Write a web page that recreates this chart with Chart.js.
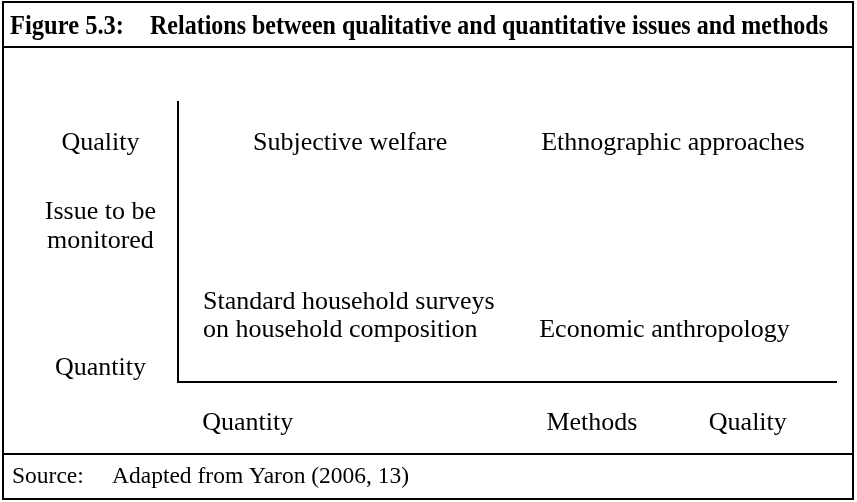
<!DOCTYPE html>
<html>
<head>
<meta charset="utf-8">
<script src="https://cdn.jsdelivr.net/npm/chart.js@4/dist/chart.umd.min.js"></script>
<style>
  html, body { margin: 0; padding: 0; background: #fff; }
  #wrap { width: 857px; height: 502px; position: relative; }
</style>
</head>
<body>
<div id="wrap"><canvas id="c" width="857" height="502"></canvas></div>
<script>
// ---- Texts ----
const titleLabel = "Figure 5.3:";
const titleText = "Relations between qualitative and quantitative issues and methods";
const sourceLabel = "Source:";
const sourceText = "Adapted from Yaron (2006, 13)";

// ---- Vertical axis: issue to be monitored (0 = quantity, 100 = quality) ----
const issueLabels = ["Quality", ["Issue to be", "monitored"], "Quantity"];
const issueValues = [85.4, 55.5, 5.0];

// ---- Horizontal axis: methods (0 = quantity, 100 = quality) ----
const methodLabels = ["Quantity", "Methods", "Quality"];
const methodValues = [10.6, 62.9, 86.6];

// ---- Cells of the diagram ----
const cellTexts = [
  "Subjective welfare",
  "Ethnographic approaches",
  ["Standard household surveys", "on household composition"],
  "Economic anthropology"
];
const cellX = [11.4, 55.2, 3.8, 54.9];
const cellY = [85.4, 85.4, 23.6, 18.6];

// ---- Styling ----
const SERIF = '"Liberation Serif", "Times New Roman", serif';

function fitText(ctx, text, x0, x1, y) {
  const w = ctx.measureText(text).width;
  const sx = (x1 - x0) / w;
  ctx.save();
  ctx.translate(x0, y);
  ctx.scale(sx, 1);
  ctx.fillText(text, 0, 0);
  ctx.restore();
}

const diagramPlugin = {
  id: 'diagramPlugin',
  beforeDraw(chart) {
    const ctx = chart.ctx;
    ctx.save();
    ctx.fillStyle = '#fff';
    ctx.fillRect(0, 0, chart.width, chart.height);
    ctx.restore();
  },
  afterDraw(chart) {
    const ctx = chart.ctx;
    ctx.save();
    // frame and separators
    ctx.strokeStyle = '#000';
    ctx.lineWidth = 2;
    ctx.strokeRect(3, 2, 850, 497);
    ctx.beginPath();
    ctx.moveTo(3, 47); ctx.lineTo(853, 47);
    ctx.moveTo(3, 454); ctx.lineTo(853, 454);
    ctx.stroke();

    ctx.fillStyle = '#000';
    ctx.textBaseline = 'middle';
    ctx.textAlign = 'left';
    // title (condensed bold serif)
    ctx.font = 'bold 27px ' + SERIF;
    fitText(ctx, titleLabel, 10, 124, 27);
    fitText(ctx, titleText, 150, 828, 27);
    // source
    ctx.font = '23.5px ' + SERIF;
    ctx.fillText(sourceLabel, 12, 477);
    ctx.fillText(sourceText, 112, 477);

    // cell texts positioned via the dataset elements (library scales)
    const meta = chart.getDatasetMeta(0);
    ctx.font = '26px ' + SERIF;
    const lh = 28;
    meta.data.forEach((pt, i) => {
      const lines = [].concat(cellTexts[i]);
      lines.forEach((ln, j) => {
        ctx.fillText(ln, pt.x, pt.y + (j - (lines.length - 1) / 2) * lh);
      });
    });
    ctx.restore();
  }
};

new Chart(document.getElementById('c'), {
  type: 'scatter',
  data: {
    datasets: [{
      data: cellX.map((x, i) => ({ x: x, y: cellY[i] })),
      pointRadius: 0,
      pointHoverRadius: 0,
      showLine: false
    }]
  },
  options: {
    responsive: false,
    devicePixelRatio: 1,
    animation: false,
    events: [],
    layout: { padding: { top: 102, right: 21, bottom: 0, left: 0 } },
    plugins: { legend: { display: false }, tooltip: { enabled: false }, title: { display: false } },
    scales: {
      x: {
        type: 'linear',
        position: 'bottom',
        min: 0, max: 100,
        grid: { display: false, drawTicks: false },
        border: { display: true, color: '#000', width: 2 },
        afterBuildTicks: (scale) => { scale.ticks = methodValues.map(v => ({ value: v })); },
        afterFit: (scale) => { scale.height = 120; },
        ticks: {
          autoSkip: false, maxRotation: 0, minRotation: 0,
          padding: 26,
          color: '#000',
          font: { family: SERIF, size: 26, lineHeight: 1.2 },
          callback: (value, index) => methodLabels[index]
        }
      },
      y: {
        type: 'linear',
        position: 'left',
        min: 0, max: 100,
        grid: { display: false, drawTicks: false },
        border: { display: true, color: '#000', width: 2 },
        afterBuildTicks: (scale) => { scale.ticks = issueValues.map(v => ({ value: v })); },
        afterFit: (scale) => { scale.width = 178; },
        ticks: {
          autoSkip: false,
          crossAlign: 'center',
          padding: 22,
          color: '#000',
          font: { family: SERIF, size: 26, lineHeight: 29 / 26 },
          callback: (value, index) => issueLabels[index]
        }
      }
    }
  },
  plugins: [diagramPlugin]
});
</script>
</body>
</html>
